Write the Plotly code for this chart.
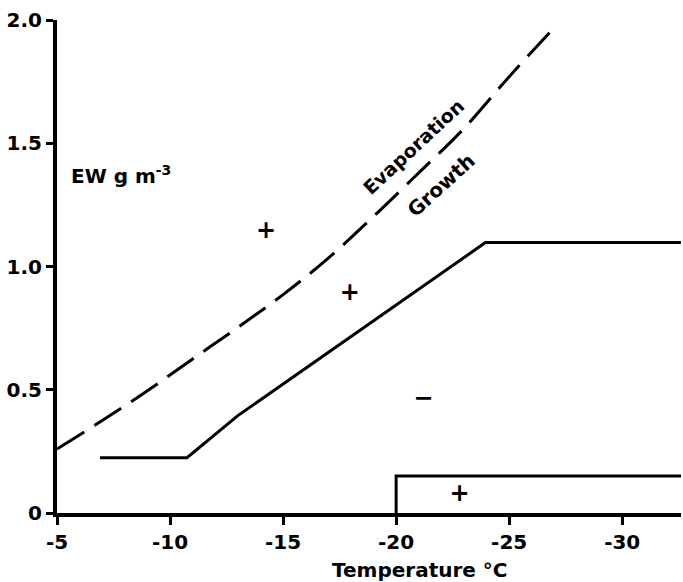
import plotly.graph_objects as go

# ---- data ----
x_ticks = [-5, -10, -15, -20, -25, -30]
x_tick_labels = ["-5", "-10", "-15", "-20", "-25", "-30"]
y_ticks = [0, 0.5, 1.0, 1.5, 2.0]
y_tick_labels = ["0", "0.5", "1.0", "1.5", "2.0"]

evap_x = [-5, -7, -9, -11, -13, -15, -17, -19, -21, -23, -25, -26.8]
evap_y = [0.26, 0.375, 0.496, 0.625, 0.753, 0.886, 1.034, 1.203, 1.38, 1.56, 1.77, 1.95]

growth_x = [-6.9, -10.75, -13.0, -23.95, -32.6]
growth_y = [0.224, 0.224, 0.395, 1.097, 1.097]

low_x = [-20, -20, -32.6]
low_y = [0, 0.15, 0.15]

sign_x = [-14.25, -17.95, -21.2, -22.8]
sign_y = [1.14, 0.89, 0.46, 0.075]
sign_text = ["+", "+", "\u2212", "+"]

FONT = "DejaVu Sans"

fig = go.Figure()
fig.add_trace(go.Scatter(x=evap_x, y=evap_y, mode="lines",
                         line=dict(color="black", width=3, dash="32px,12px"),
                         line_shape="spline", showlegend=False))
fig.add_trace(go.Scatter(x=growth_x, y=growth_y, mode="lines",
                         line=dict(color="black", width=3), showlegend=False))
fig.add_trace(go.Scatter(x=low_x, y=low_y, mode="lines",
                         line=dict(color="black", width=3), showlegend=False))
fig.add_trace(go.Scatter(x=sign_x, y=sign_y, mode="text", text=sign_text,
                         textfont=dict(family=FONT, size=24, color="black", weight="bold"),
                         showlegend=False))

fig.add_annotation(x=-20.75, y=1.485, xref="x", yref="y", text="Evaporation",
                   textangle=-43, showarrow=False,
                   font=dict(family=FONT, size=19, color="black", weight="bold"))
fig.add_annotation(x=-22.0, y=1.33, xref="x", yref="y", text="Growth",
                   textangle=-42, showarrow=False,
                   font=dict(family=FONT, size=20, color="black", weight="bold"))
fig.add_annotation(x=-5.53, y=1.37, xref="x", yref="y", xanchor="left",
                   text="EW g m<sup>-3</sup>", showarrow=False,
                   font=dict(family=FONT, size=20, color="black", weight="bold"))
fig.add_annotation(x=-21.05, y=-0.115, xref="x", yref="paper", yanchor="middle",
                   text="Temperature \u00b0C", showarrow=False,
                   font=dict(family=FONT, size=20, color="black", weight="bold"))

fig.update_layout(
    width=683, height=582,
    margin=dict(l=57, r=2, t=20, b=69),
    plot_bgcolor="white", paper_bgcolor="white",
    font=dict(family=FONT, color="black", weight="bold"),
    xaxis=dict(range=[-5, -32.6], tickvals=x_ticks, ticktext=x_tick_labels,
               showline=True, linewidth=4, linecolor="black",
               ticks="outside", ticklen=8, tickwidth=3, tickcolor="black",
               showgrid=False, zeroline=False,
               tickfont=dict(family=FONT, size=20, color="black", weight="bold")),
    yaxis=dict(range=[0, 2.0], tickvals=y_ticks, ticktext=y_tick_labels,
               showline=True, linewidth=4, linecolor="black",
               ticks="outside", ticklen=7, tickwidth=3, tickcolor="black",
               showgrid=False, zeroline=False,
               tickfont=dict(family=FONT, size=20, color="black", weight="bold")),
)

fig.write_html("out.html")
